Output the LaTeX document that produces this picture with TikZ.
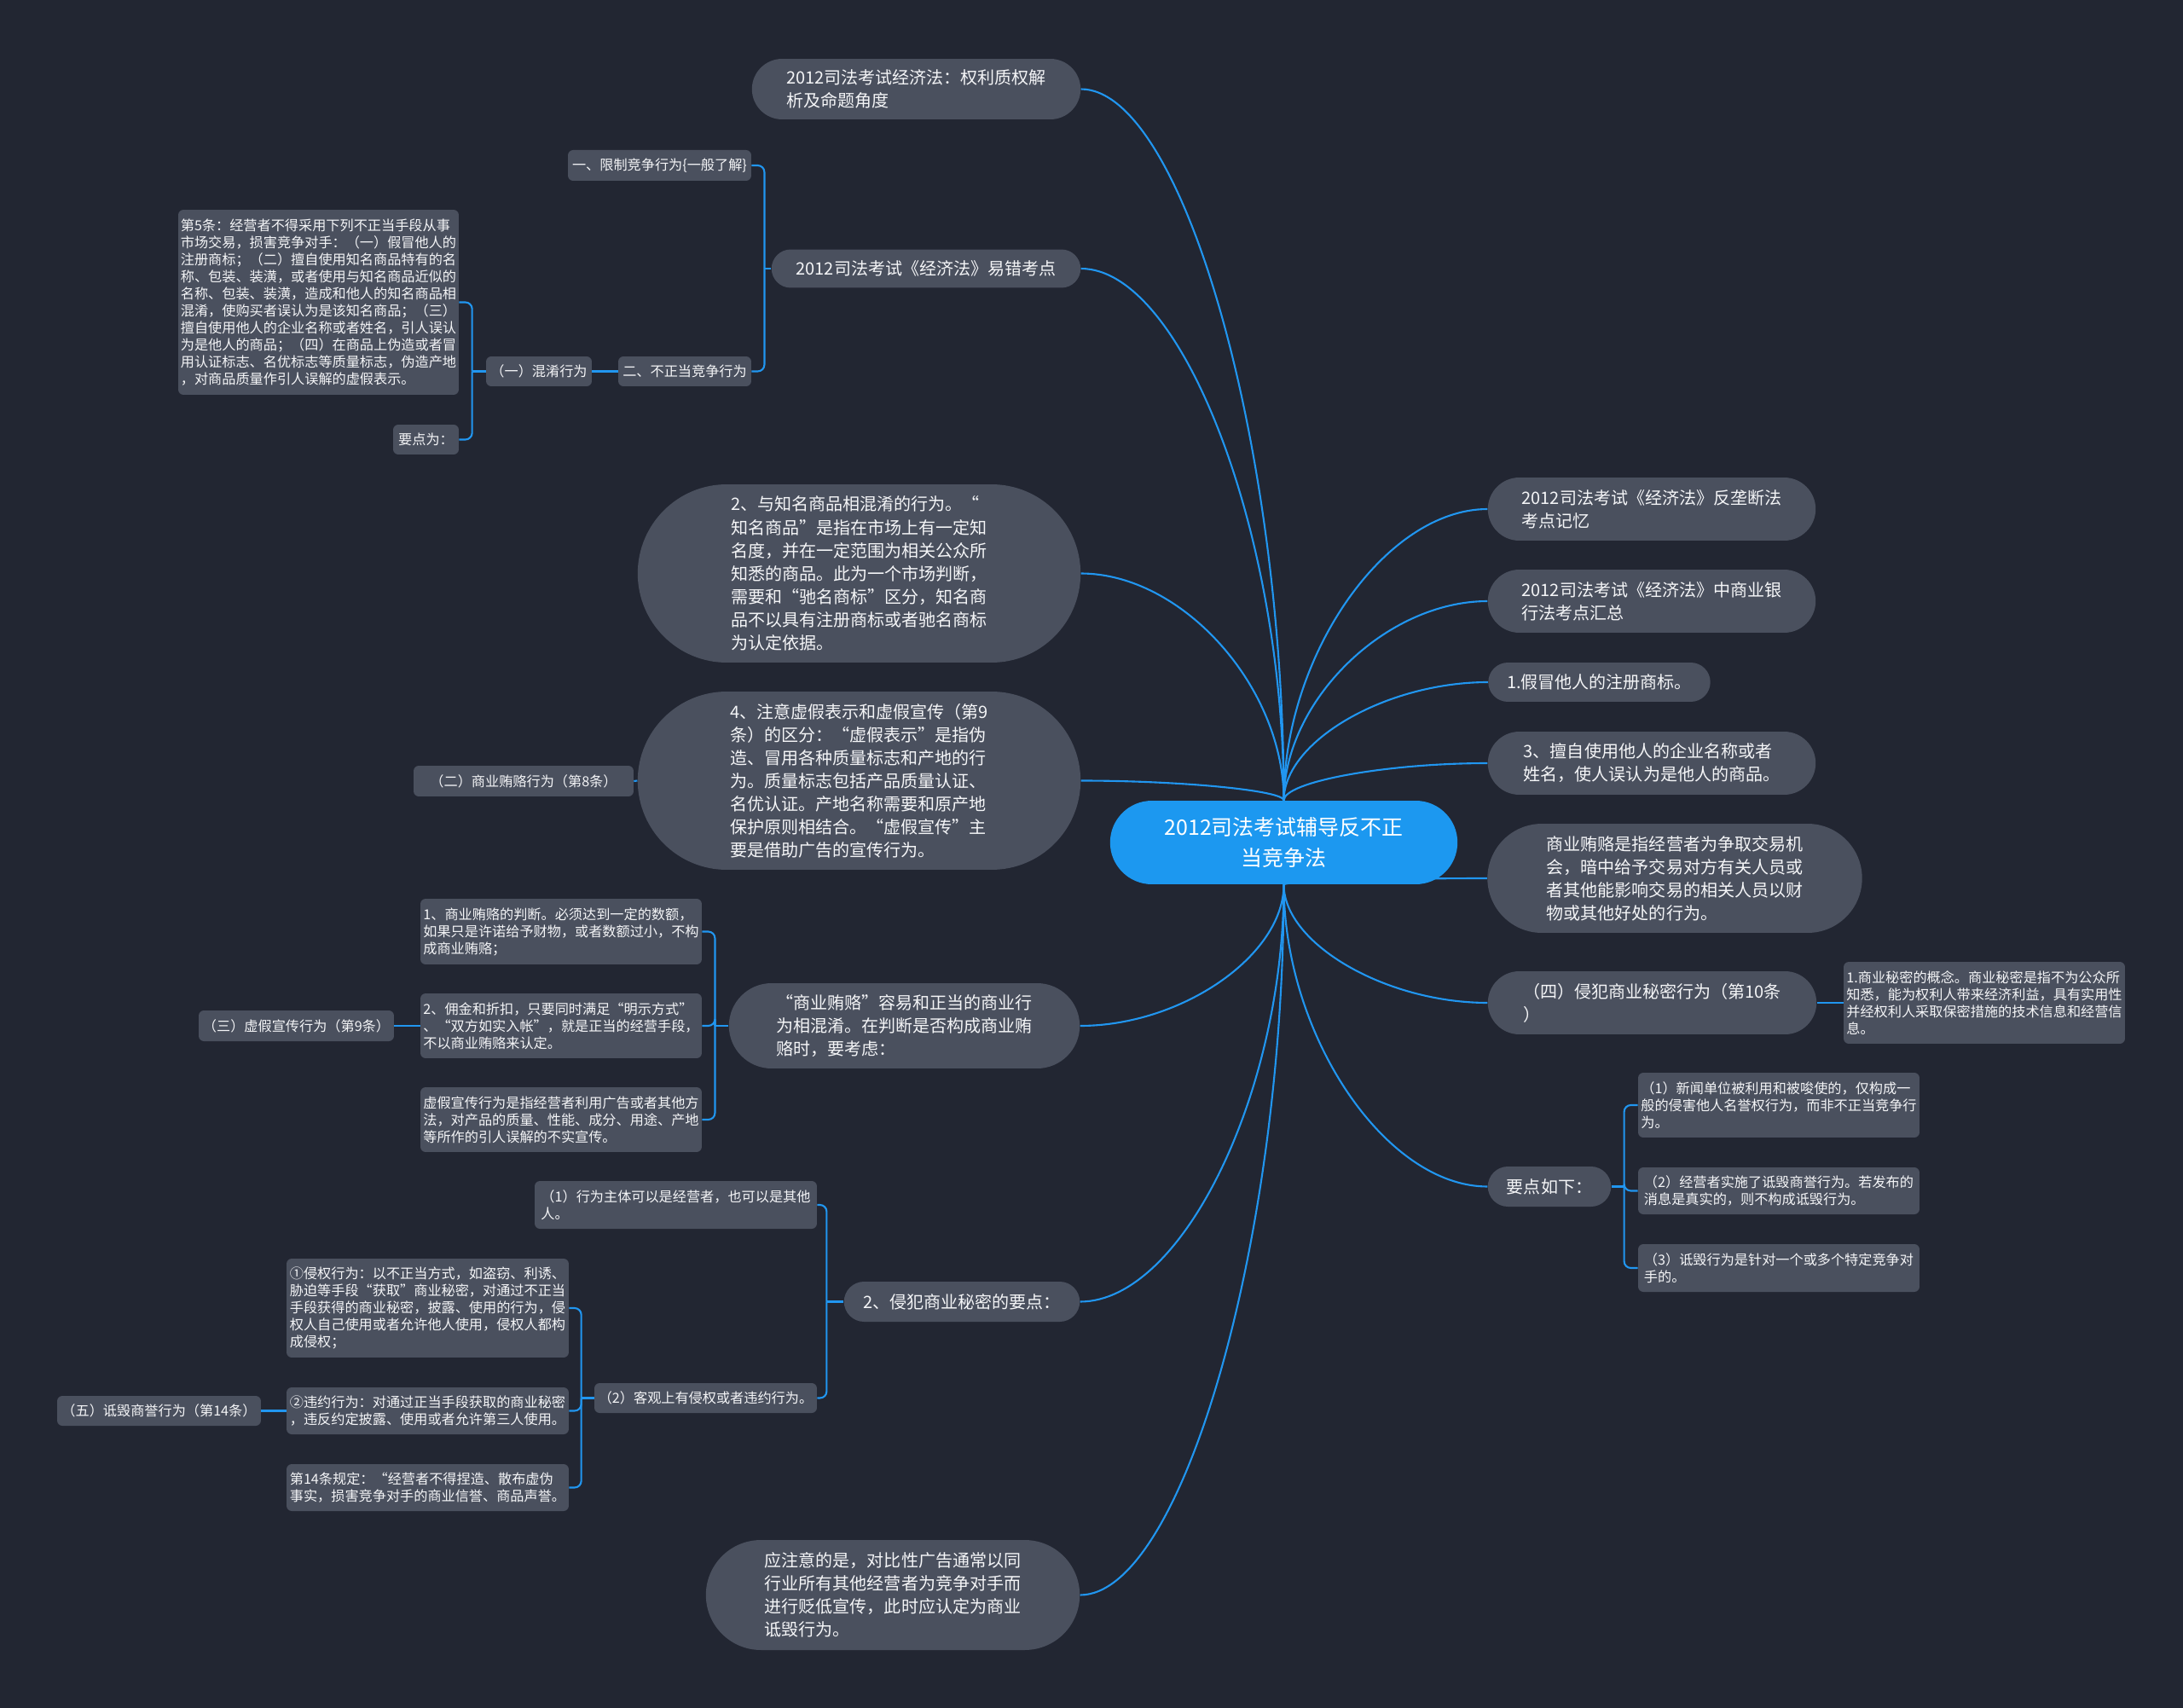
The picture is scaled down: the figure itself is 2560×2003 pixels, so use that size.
\documentclass[tikz,border=0pt]{standalone}
\usepackage{fontspec}
\setmainfont{Noto Sans CJK SC}
\usetikzlibrary{shapes.misc, calc, backgrounds}
\definecolor{bgdark}{HTML}{222632}
\definecolor{boxgray}{HTML}{4A505E}
\definecolor{wireblue}{HTML}{2196F0}
\definecolor{rootblue}{HTML}{1C98F0}
\definecolor{txtwhite}{HTML}{F4F5F7}
\tikzset{
  rootbox/.style={rounded rectangle, fill=rootblue, text=white, align=center,
                  font=\fontsize{14.2}{20.9}\selectfont, inner sep=1pt},
  topicbox/.style={rounded rectangle, fill=boxgray, text=txtwhite, align=left,
                   font=\fontsize{11.4}{15.4}\selectfont, inner sep=1pt},
  notebox/.style={rectangle, rounded corners=3.5pt, fill=boxgray, text=txtwhite,
                  align=left, font=\fontsize{9.2}{11.4}\selectfont, inner sep=1pt},
  wire/.style={draw=wireblue, line width=1.2pt},
  elbowwire/.style={wire, rounded corners=4.5pt},
  curvewire/.style={wire, to path={.. controls ($(\tikztostart)!0.5!(\tikztostart|-\tikztotarget)$)
                    and ($(\tikztotarget)!0.5!(\tikztostart|-\tikztotarget)$) .. (\tikztotarget)}},
}

\begin{document}
\begin{tikzpicture}[x=0.02cm, y=-0.02cm]
  \useasboundingbox (0,0) rectangle (2560,2003);
  % centre
  \node[rootbox, minimum width=8.22cm, minimum height=1.96cm] (root) at (1505.5,988) {2012司法考试辅导反不正\\当竞争法};

  % left, upper
  \node[topicbox, minimum width=7.78cm, minimum height=1.42cm] (quanli) at (1074.5,104.5) {2012司法考试经济法：权利质权解\\析及命题角度};
  \node[topicbox, minimum width=7.32cm, minimum height=0.9cm] (yicuo) at (1086,315) {2012司法考试《经济法》易错考点};
  \node[notebox, minimum width=4.3cm, minimum height=0.72cm] (xianzhi) at (773.5,194) {一、限制竞争行为\{一般了解\}};
  \node[notebox, minimum width=3.12cm, minimum height=0.7cm] (buzheng) at (803,435.5) {二、不正当竞争行为};
  \node[notebox, minimum width=2.48cm, minimum height=0.7cm] (hunxiao) at (632,435.5) {（一）混淆行为};
  \node[notebox, minimum width=6.58cm, minimum height=4.34cm] (tiao5) at (373.5,354.5) {第5条：经营者不得采用下列不正当手段从事\\市场交易，损害竞争对手：（一）假冒他人的\\注册商标；（二）擅自使用知名商品特有的名\\称、包装、装潢，或者使用与知名商品近似的\\名称、包装、装潢，造成和他人的知名商品相\\混淆，使购买者误认为是该知名商品；（三）\\擅自使用他人的企业名称或者姓名，引人误认\\为是他人的商品；（四）在商品上伪造或者冒\\用认证标志、名优标志等质量标志，伪造产地\\，对商品质量作引人误解的虚假表示。};
  \node[notebox, minimum width=1.54cm, minimum height=0.7cm] (yaodianwei) at (499.5,515.5) {要点为：};
  \node[topicbox, minimum width=10.46cm, minimum height=4.18cm] (zhiming) at (1007.5,672.5) {2、与知名商品相混淆的行为。“\\知名商品”是指在市场上有一定知\\名度，并在一定范围为相关公众所\\知悉的商品。此为一个市场判断，\\需要和“驰名商标”区分，知名商\\品不以具有注册商标或者驰名商标\\为认定依据。};
  \node[topicbox, minimum width=10.46cm, minimum height=4.18cm] (xujia) at (1007.5,915.5) {4、注意虚假表示和虚假宣传（第9\\条）的区分：“虚假表示”是指伪\\造、冒用各种质量标志和产地的行\\为。质量标志包括产品质量认证、\\名优认证。产地名称需要和原产地\\保护原则相结合。“虚假宣传”主\\要是借助广告的宣传行为。};
  \node[notebox, minimum width=5.16cm, minimum height=0.72cm] (huilu8) at (614,916) {（二）商业贿赂行为（第8条）};

  % left, lower
  \node[topicbox, minimum width=8.3cm, minimum height=2.0cm] (huilu) at (1060.5,1203) {“商业贿赂”容易和正当的商业行\\为相混淆。在判断是否构成商业贿\\赂时，要考虑：};
  \node[notebox, minimum width=6.6cm, minimum height=1.54cm] (panduan) at (658,1092.5) {1、商业贿赂的判断。必须达到一定的数额，\\如果只是许诺给予财物，或者数额过小，不构\\成商业贿赂；};
  \node[notebox, minimum width=6.6cm, minimum height=1.52cm] (yongjin) at (658,1203) {2、佣金和折扣，只要同时满足“明示方式”\\、“双方如实入帐”，就是正当的经营手段，\\不以商业贿赂来认定。};
  \node[notebox, minimum width=6.6cm, minimum height=1.52cm] (xuanchuan) at (658,1313) {虚假宣传行为是指经营者利用广告或者其他方\\法，对产品的质量、性能、成分、用途、产地\\等所作的引人误解的不实宣传。};
  \node[notebox, minimum width=4.58cm, minimum height=0.72cm] (xuanchuan9) at (347.5,1203) {（三）虚假宣传行为（第9条）};
  \node[topicbox, minimum width=5.6cm, minimum height=0.94cm] (mimi) at (1128,1526.5) {2、侵犯商业秘密的要点：};
  \node[notebox, minimum width=6.62cm, minimum height=1.12cm] (zhuti) at (792.5,1413) {（1）行为主体可以是经营者，也可以是其他\\人。};
  \node[notebox, minimum width=5.22cm, minimum height=0.7cm] (keguan) at (827.5,1639.5) {（2）客观上有侵权或者违约行为。};
  \node[notebox, minimum width=6.62cm, minimum height=2.32cm] (qinquan) at (501.5,1534) {①侵权行为：以不正当方式，如盗窃、利诱、\\胁迫等手段“获取”商业秘密，对通过不正当\\手段获得的商业秘密，披露、使用的行为，侵\\权人自己使用或者允许他人使用，侵权人都构\\成侵权；};
  \node[notebox, minimum width=6.62cm, minimum height=1.1cm] (weiyue) at (501.5,1654.5) {②违约行为：对通过正当手段获取的商业秘密\\，违反约定披露、使用或者允许第三人使用。};
  \node[notebox, minimum width=6.62cm, minimum height=1.1cm] (tiao14) at (501.5,1744.5) {第14条规定：“经营者不得捏造、散布虚伪\\事实，损害竞争对手的商业信誉、商品声誉。};
  \node[notebox, minimum width=4.78cm, minimum height=0.7cm] (dihui14) at (186.5,1654.5) {（五）诋毁商誉行为（第14条）};
  \node[topicbox, minimum width=8.84cm, minimum height=2.58cm] (duibi) at (1047,1870.5) {应注意的是，对比性广告通常以同\\行业所有其他经营者为竞争对手而\\进行贬低宣传，此时应认定为商业\\诋毁行为。};

  % right
  \node[topicbox, minimum width=7.76cm, minimum height=1.48cm] (fld) at (1937,597) {2012司法考试《经济法》反垄断法\\考点记忆};
  \node[topicbox, minimum width=7.76cm, minimum height=1.48cm] (yinhang) at (1937,705) {2012司法考试《经济法》中商业银\\行法考点汇总};
  \node[topicbox, minimum width=5.28cm, minimum height=0.92cm] (jiamao) at (1875.5,800) {1.假冒他人的注册商标。};
  \node[topicbox, minimum width=7.76cm, minimum height=1.48cm] (qiye) at (1937,895) {3、擅自使用他人的企业名称或者\\姓名，使人误认为是他人的商品。};
  \node[topicbox, minimum width=8.86cm, minimum height=2.56cm] (huiludef) at (1964,1030) {商业贿赂是指经营者为争取交易机\\会，暗中给予交易对方有关人员或\\者其他能影响交易的相关人员以财\\物或其他好处的行为。};
  \node[topicbox, minimum width=7.78cm, minimum height=1.48cm] (mimi10) at (1937.5,1176) {（四）侵犯商业秘密行为（第10条\\）};
  \node[notebox, minimum width=6.6cm, minimum height=1.92cm] (mimidef) at (2327,1176) {1.商业秘密的概念。商业秘密是指不为公众所\\知悉，能为权利人带来经济利益，具有实用性\\并经权利人采取保密措施的技术信息和经营信\\息。};
  \node[topicbox, minimum width=2.96cm, minimum height=0.94cm] (yaodian) at (1817,1391.5) {要点如下：};
  \node[notebox, minimum width=6.6cm, minimum height=1.52cm] (xinwen) at (2086,1296) {（1）新闻单位被利用和被唆使的，仅构成一\\般的侵害他人名誉权行为，而非不正当竞争行\\为。};
  \node[notebox, minimum width=6.6cm, minimum height=1.1cm] (zhenshi) at (2086,1396.5) {（2）经营者实施了诋毁商誉行为。若发布的\\消息是真实的，则不构成诋毁行为。};
  \node[notebox, minimum width=6.6cm, minimum height=1.12cm] (duishou) at (2086,1487) {（3）诋毁行为是针对一个或多个特定竞争对\\手的。};

  % junctions
  \coordinate (jyicuo) at ($(yicuo.west)+(-8,0)$);
  \coordinate (jhunxiao) at ($(hunxiao.west)+(-16,0)$);
  \coordinate (jhuilu) at ($(huilu.west)+(-16,0)$);
  \coordinate (jmimi) at ($(mimi.west)+(-20,0)$);
  \coordinate (jkeguan) at ($(keguan.west)+(-15,0)$);
  \coordinate (jyaodian) at ($(yaodian.east)+(15,0)$);

  \begin{scope}[on background layer]
    \fill[bgdark] (0,0) rectangle (2560,2003);
    % branches from the centre
    \foreach \n in {quanli, yicuo, zhiming, xujia}
      \draw[curvewire] (root.north) to (\n.east);
    \foreach \n in {fld, yinhang, jiamao, qiye}
      \draw[curvewire] (root.north) to (\n.west);
    \foreach \n in {huilu, mimi, duibi}
      \draw[curvewire] (root.south) to (\n.east);
    \foreach \n in {huiludef, mimi10, yaodian}
      \draw[curvewire] (root.south) to (\n.west);
    % sub-branches
    \draw[wire] (yicuo.west) -- (jyicuo);
    \foreach \n in {xianzhi, buzheng}
      \draw[elbowwire] (jyicuo) |- (\n.east);
    \draw[wire] (buzheng.west) -- (hunxiao.east);
    \draw[wire] (hunxiao.west) -- (jhunxiao);
    \foreach \n in {tiao5, yaodianwei}
      \draw[elbowwire] (jhunxiao) |- (\n.east);
    \draw[wire] (xujia.west) -- (huilu8.east);
    \draw[wire] (huilu.west) -- (jhuilu);
    \foreach \n in {panduan, yongjin, xuanchuan}
      \draw[elbowwire] (jhuilu) |- (\n.east);
    \draw[wire] (yongjin.west) -- (xuanchuan9.east);
    \draw[wire] (mimi.west) -- (jmimi);
    \foreach \n in {zhuti, keguan}
      \draw[elbowwire] (jmimi) |- (\n.east);
    \draw[wire] (keguan.west) -- (jkeguan);
    \foreach \n in {qinquan, weiyue, tiao14}
      \draw[elbowwire] (jkeguan) |- (\n.east);
    \draw[wire] (weiyue.west) -- (dihui14.east);
    \draw[wire] (mimi10.east) -- (mimidef.west);
    \draw[wire] (yaodian.east) -- (jyaodian);
    \foreach \n in {xinwen, zhenshi, duishou}
      \draw[elbowwire] (jyaodian) |- (\n.west);
  \end{scope}
\end{tikzpicture}
\end{document}
